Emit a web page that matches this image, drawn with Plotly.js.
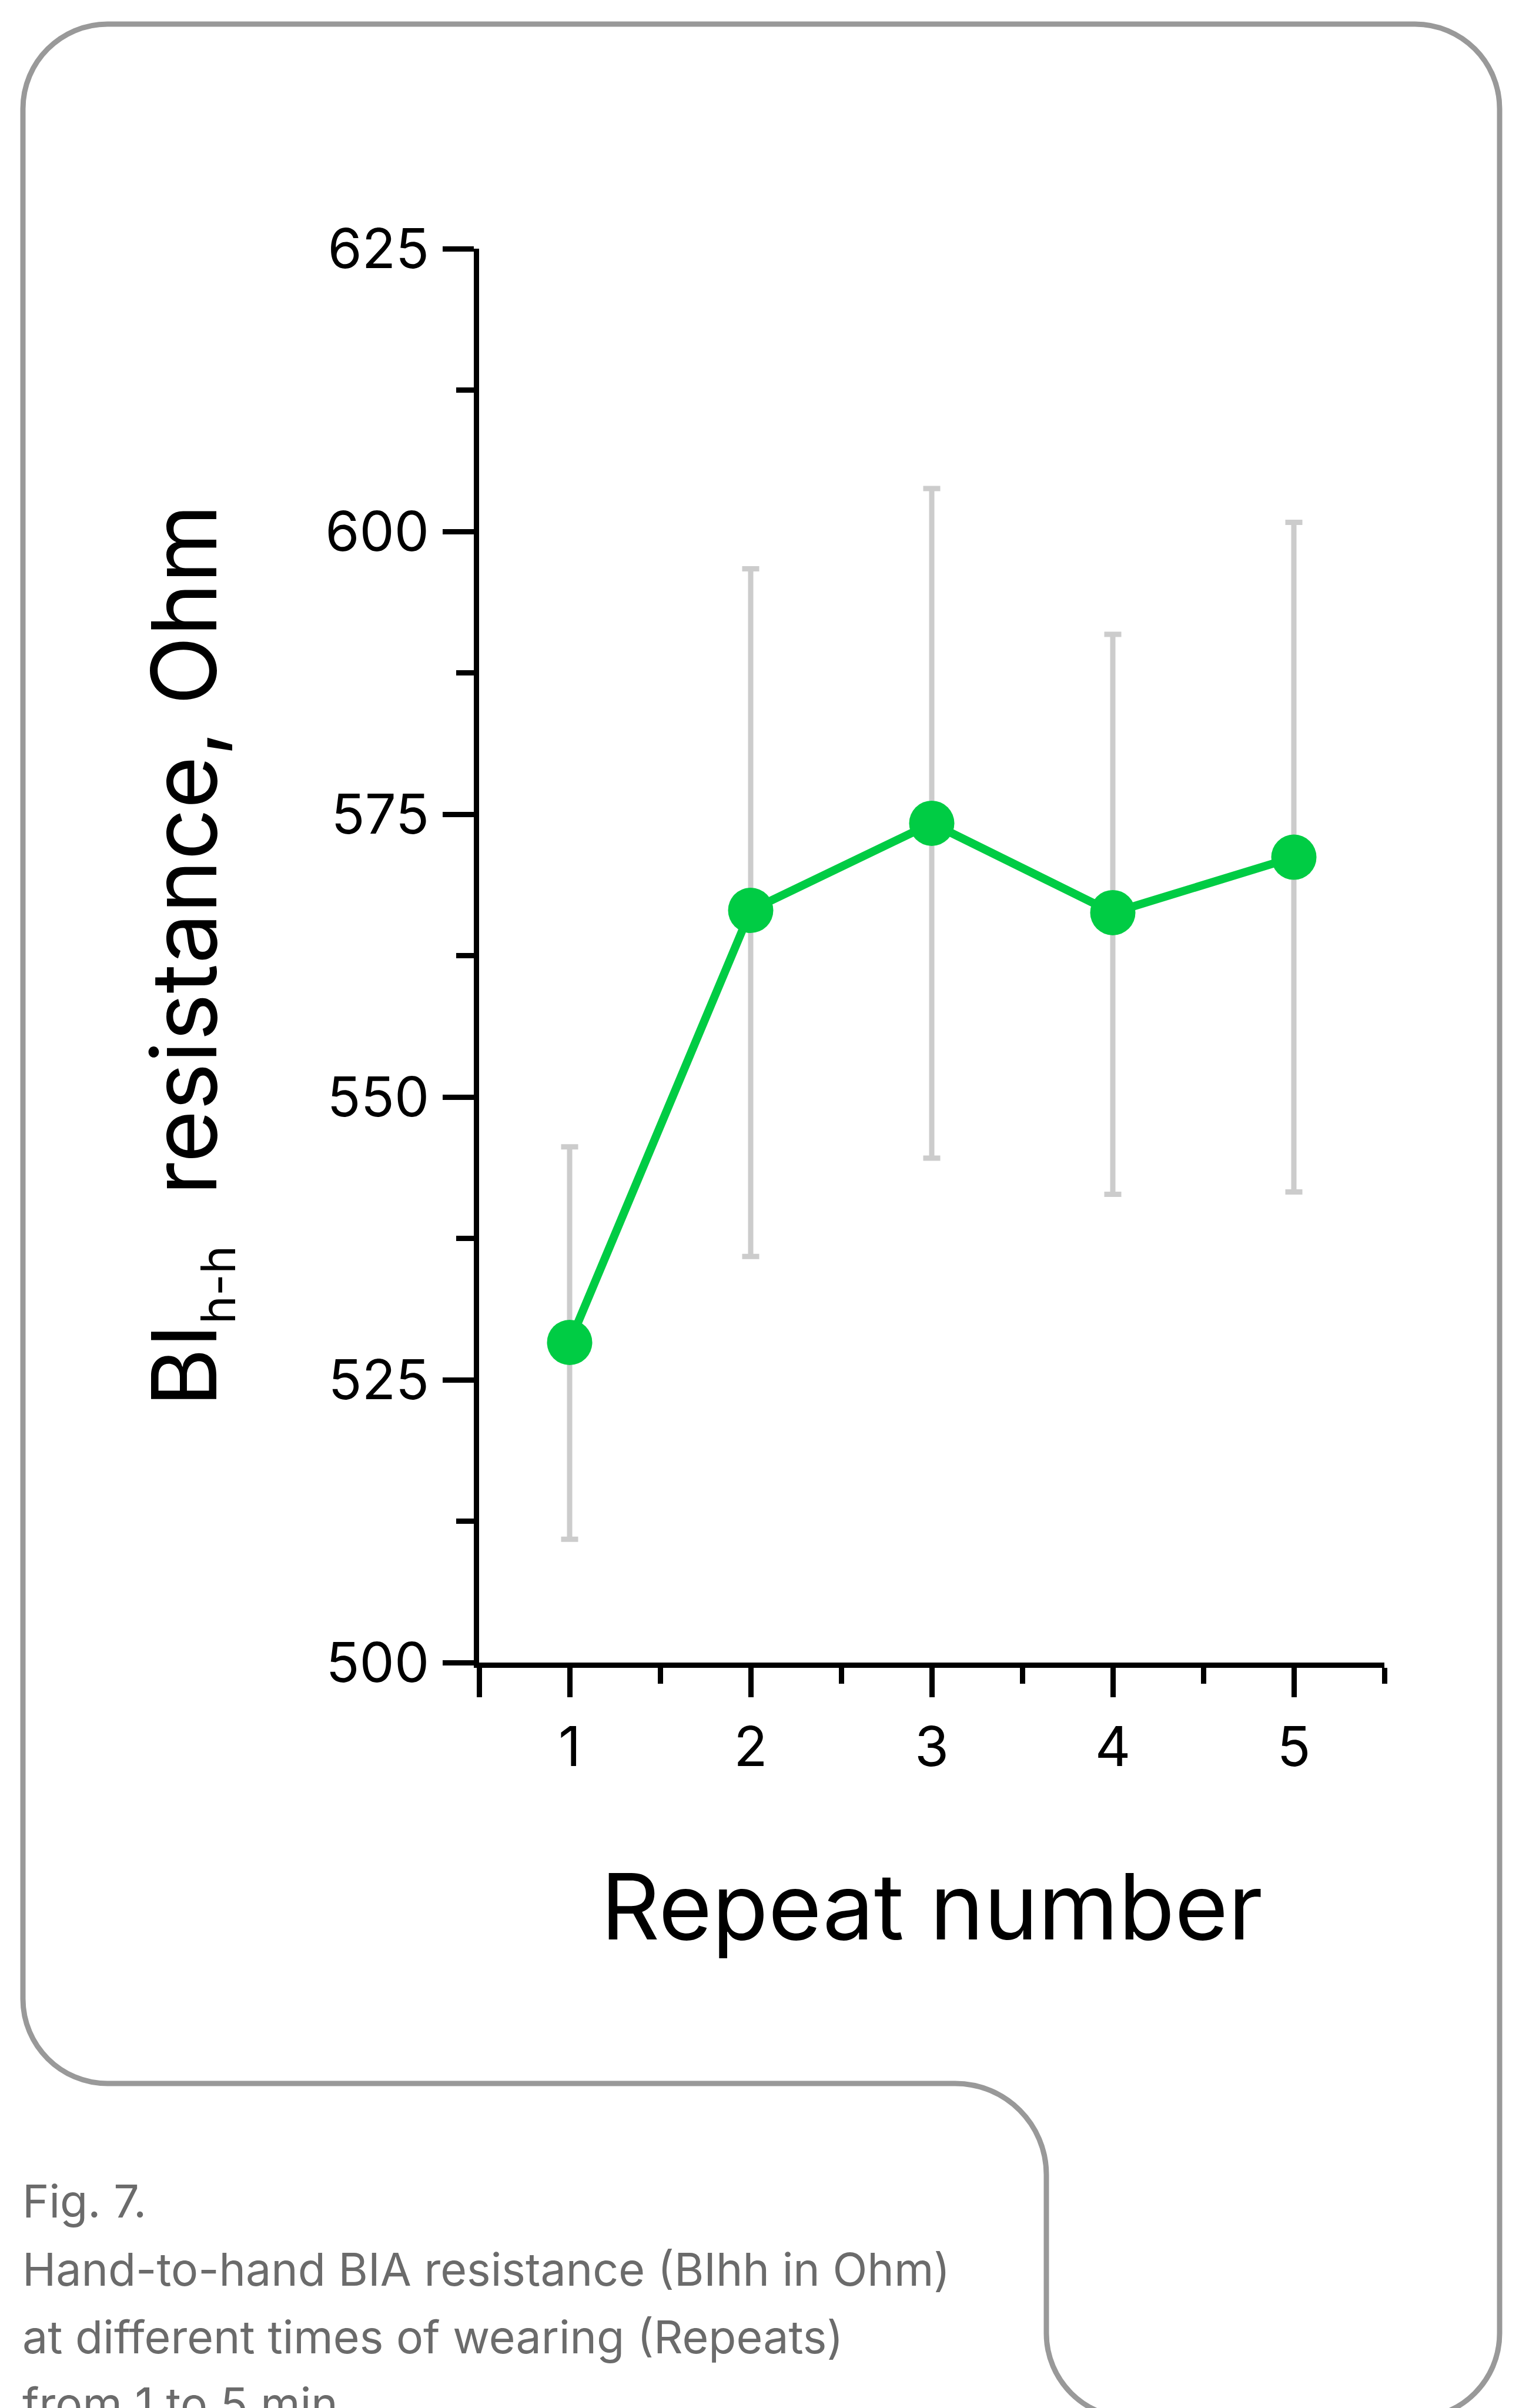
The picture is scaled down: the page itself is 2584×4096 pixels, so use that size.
<!DOCTYPE html>
<html><head><meta charset="utf-8">
<script src="https://cdn.plot.ly/plotly-3.0.1.min.js"></script>
<style>html,body{margin:0;padding:0;background:#fff;} #chart{width:2584px;height:4096px;}</style>
</head><body><div id="chart"></div>
<script>
// ---- data ----
const repeats = [1, 2, 3, 4, 5];
const xTickLabels = ['1', '2', '3', '4', '5'];
const meanResistance = [528.3, 566.5, 574.2, 566.3, 571.2];
const errorPlus = [17.3, 30.2, 29.6, 24.6, 29.6];
const errorMinus = [17.4, 30.6, 29.6, 24.9, 29.6];
const yTicks = [500, 525, 550, 575, 600, 625];
const captionLines = ['Fig. 7.', 'Hand-to-hand BIA resistance (BIhh in Ohm)', 'at different times of wearing (Repeats)', 'from 1 to 5 min'];

// ---- geometry ----
const W = 2584, H = 4096;
const M = {l: 815, r: 229, t: 423, b: 1268};
const PW = W - M.l - M.r, PH = H - M.t - M.b;
function px(x) { return (x - M.l) / PW; }
function py(y) { return (H - M.b - y) / PH; }
function P(x, y) { return px(x).toFixed(5) + ',' + py(y).toFixed(5); }

// border (pixel coords converted to paper)
const L = 39, T = 41, R = 2551, NY = 3544, NX = 1780, B = 4113;
const r = 144, rn = 155, k = 0.5523;
const borderPath =
  'M' + P(L, T + r) +
  ' C' + P(L, T + r - k * r) + ' ' + P(L + r - k * r, T) + ' ' + P(L + r, T) +
  ' L' + P(R - r, T) +
  ' C' + P(R - r + k * r, T) + ' ' + P(R, T + r - k * r) + ' ' + P(R, T + r) +
  ' L' + P(R, B - r) +
  ' C' + P(R, B - r + k * r) + ' ' + P(R - r + k * r, B) + ' ' + P(R - r, B) +
  ' L' + P(NX + r, B) +
  ' C' + P(NX + r - k * r, B) + ' ' + P(NX, B - r + k * r) + ' ' + P(NX, B - r) +
  ' L' + P(NX, NY + rn) +
  ' C' + P(NX, NY + rn - k * rn) + ' ' + P(NX - rn + k * rn, NY) + ' ' + P(NX - rn, NY) +
  ' L' + P(L + r, NY) +
  ' C' + P(L + r - k * r, NY) + ' ' + P(L, NY - r + k * r) + ' ' + P(L, NY - r) +
  ' Z';

const capFs = 77;
const capBaselines = [3772, 3888, 4003, 4117];
const annotations = captionLines.map((t, i) => ({
  text: t, xref: 'paper', yref: 'paper', x: px(36), y: py(capBaselines[i] - 0.36 * capFs),
  xanchor: 'left', yanchor: 'middle', showarrow: false,
  font: {family: 'Inter', size: capFs, color: '#6b6b6b'}
}));

const trace = {
  x: repeats, y: meanResistance, type: 'scatter', mode: 'lines+markers',
  line: {color: '#00cc44', width: 14},
  marker: {size: 77, color: '#00cc44'},
  error_y: {type: 'data', symmetric: false, array: errorPlus, arrayminus: errorMinus,
            color: '#cccccc', thickness: 9, width: 14.5},
  cliponaxis: false, showlegend: false, hoverinfo: 'skip'
};

const layout = {
  width: W, height: H, margin: M,
  paper_bgcolor: '#ffffff', plot_bgcolor: '#ffffff',
  showlegend: false,
  font: {family: 'Inter', color: '#000'},
  xaxis: {
    range: [0.5, 5.5], tickmode: 'array',
    tickvals: [0.5].concat(repeats), ticktext: [' '].concat(xTickLabels),
    ticks: 'outside', ticklen: 50, tickwidth: 9, tickcolor: '#000',
    showline: true, linewidth: 9, linecolor: '#000',
    showgrid: false, zeroline: false, automargin: false,
    minor: {tickmode: 'linear', tick0: 0.5, dtick: 0.5, ticks: 'outside', ticklen: 27, tickwidth: 9, tickcolor: '#000', showgrid: false},
    tickfont: {family: 'Inter', size: 94, color: '#000'},
    ticklabelstandoff: 4,
    title: {text: 'Repeat number', font: {family: 'Inter', size: 156, color: '#000'}, standoff: 168}
  },
  yaxis: {
    range: [500, 625], tickmode: 'array', tickvals: yTicks, ticktext: yTicks.map(String),
    ticks: 'outside', ticklen: 53, tickwidth: 9, tickcolor: '#000',
    showline: true, linewidth: 9, linecolor: '#000',
    showgrid: false, zeroline: false, automargin: false,
    minor: {tickmode: 'linear', tick0: 500, dtick: 12.5, ticks: 'outside', ticklen: 30, tickwidth: 9, tickcolor: '#000', showgrid: false},
    tickfont: {family: 'Inter', size: 94, color: '#000'},
    ticklabelstandoff: 4,
    title: {text: 'BI<sub><span style="font-size:81px">h-h</span></sub>&nbsp;&nbsp;resistance, Ohm',
            font: {family: 'Inter', size: 153, color: '#000'}, standoff: 136}
  },
  shapes: [{type: 'path', xref: 'paper', yref: 'paper', path: borderPath,
            line: {color: '#999999', width: 9}, fillcolor: 'rgba(0,0,0,0)', layer: 'below'}],
  annotations: annotations
};

Plotly.newPlot('chart', [trace], layout, {displayModeBar: false, staticPlot: true});
</script>
</body></html>
